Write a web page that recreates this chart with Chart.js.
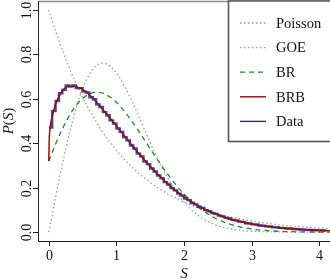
<!DOCTYPE html>
<html>
<head>
<meta charset="utf-8">
<script src="https://cdn.jsdelivr.net/npm/chart.js@4"></script>
<style>
  html, body { margin: 0; padding: 0; background: #fff; }
</style>
</head>
<body>
<canvas id="spacing_chart" width="330" height="280"></canvas>
<script>
// grid of S values for the reference curves
const sGrid = [0, 0.1, 0.2, 0.3, 0.4, 0.5, 0.6, 0.7, 0.8, 0.9, 1.0, 1.1, 1.2, 1.3, 1.4, 1.5, 1.6, 1.7, 1.8, 1.9,
    2.0, 2.1, 2.2, 2.3, 2.4, 2.5, 2.6, 2.7, 2.8, 2.9, 3.0, 3.1, 3.2, 3.3, 3.4, 3.5, 3.6, 3.7, 3.8, 3.9, 4.0, 4.1, 4.2];

const poissonVals = [1.000, 0.905, 0.819, 0.741, 0.670, 0.607, 0.549, 0.497, 0.449, 0.407, 0.368, 0.333, 0.301, 0.273,
    0.247, 0.223, 0.202, 0.183, 0.165, 0.150, 0.135, 0.122, 0.111, 0.100, 0.091, 0.082, 0.074, 0.067, 0.061, 0.055,
    0.050, 0.045, 0.041, 0.037, 0.033, 0.030, 0.027, 0.025, 0.022, 0.020, 0.018, 0.017, 0.015];

const goeVals = [0, 0.156, 0.304, 0.439, 0.554, 0.645, 0.710, 0.748, 0.760, 0.748, 0.716, 0.668, 0.608, 0.542, 0.472,
    0.403, 0.337, 0.276, 0.222, 0.175, 0.136, 0.103, 0.077, 0.057, 0.041, 0.029, 0.020, 0.014, 0.009, 0.006, 0.004,
    0.003, 0.002, 0.001, 0.001, 0, 0, 0, 0, 0, 0, 0, 0];

const brVals = [0.319, 0.396, 0.464, 0.522, 0.569, 0.602, 0.622, 0.630, 0.625, 0.609, 0.584, 0.550, 0.511, 0.468, 0.422,
    0.375, 0.329, 0.285, 0.244, 0.206, 0.171, 0.141, 0.115, 0.092, 0.073, 0.057, 0.044, 0.034, 0.026, 0.019, 0.014,
    0.010, 0.0075, 0.0055, 0.0038, 0.0026, 0.0018, 0.0012, 0.0008, 0.0005, 0.0003, 0.0002, 0.0001];

// BRB fit is steep near zero, so it gets its own S values
const sBrb = [0, 0.005, 0.01, 0.02, 0.035, 0.05, 0.075, 0.1, 0.15, 0.2, 0.25, 0.3, 0.35, 0.4, 0.5, 0.6, 0.7, 0.8, 0.9,
    1.0, 1.1, 1.2, 1.3, 1.4, 1.5, 1.6, 1.7, 1.8, 1.9, 2.0, 2.1, 2.2, 2.3, 2.4, 2.5, 2.6, 2.7, 2.8, 2.9, 3.0, 3.2, 3.4,
    3.6, 3.8, 4.0, 4.2];
const brbVals = [0.32, 0.40, 0.44, 0.47, 0.50, 0.52, 0.55, 0.575, 0.61, 0.635, 0.65, 0.657, 0.658, 0.655, 0.642, 0.618,
    0.587, 0.552, 0.515, 0.478, 0.440, 0.402, 0.365, 0.330, 0.296, 0.264, 0.234, 0.206, 0.181, 0.158, 0.138, 0.120,
    0.104, 0.090, 0.078, 0.067, 0.058, 0.050, 0.043, 0.037, 0.027, 0.020, 0.015, 0.011, 0.008, 0.006];

// histogram of the data, bins of width 0.05 starting at 0
const binWidth = 0.05;
const dataVals = [0.47, 0.545, 0.59, 0.625, 0.64, 0.66, 0.655, 0.66, 0.648, 0.648,
    0.632, 0.628, 0.607, 0.598, 0.575, 0.563, 0.540, 0.526, 0.503, 0.489,
    0.466, 0.451, 0.427, 0.413, 0.390, 0.376, 0.353, 0.341, 0.318, 0.306,
    0.286, 0.273, 0.255, 0.243, 0.225, 0.214, 0.198, 0.188, 0.173, 0.165,
    0.151, 0.144, 0.131, 0.125, 0.114, 0.109, 0.099, 0.094, 0.086, 0.082,
    0.074, 0.071, 0.064, 0.061, 0.055, 0.053, 0.047, 0.046, 0.040, 0.039,
    0.035, 0.034, 0.030, 0.029, 0.026, 0.025, 0.022, 0.022, 0.019, 0.018,
    0.016, 0.016, 0.014, 0.013, 0.012, 0.011, 0.010, 0.010, 0.009, 0.008,
    0.008, 0.007];

const xTicks = [0, 1, 2, 3, 4];
const yTicks = [0, 0.2, 0.4, 0.6, 0.8, 1.0];
const yTickLabels = ["0.0", "0.2", "0.4", "0.6", "0.8", "1.0"];

const legendNames = ["Poisson", "GOE", "BR", "BRB", "Data"];

const serif = "'Liberation Serif', 'DejaVu Serif', serif";
const grayDot = "#9a9a9a";
const green = "#1f8a1f";
const red = "#8e0c0c";
const navy = "#28288e";

toPoints = (xs, ys) => xs.map((x, i) => ({ x: x, y: ys[i] }));

// step points: left edge of each bin, plus the right edge of the last one
let dataPoints = dataVals.map((v, i) => ({ x: i * binWidth, y: v }));
dataPoints.push({ x: dataVals.length * binWidth, y: dataVals[dataVals.length - 1] });

// legend entries with their line styles
const legendStyles = [
    { color: grayDot, dash: [1.5, 2.5], width: 1.3 },
    { color: grayDot, dash: [1.5, 2.5], width: 1.3 },
    { color: green, dash: [5, 4], width: 1.3 },
    { color: red, dash: [], width: 1.4 },
    { color: navy, dash: [], width: 1.4 }
];

// axes, labels and legend drawn by hand (R style, rotated y labels)
const axesPlugin = {
    id: "axesPlugin",
    afterDatasetsDraw(chart) {
        const ctx = chart.ctx;
        const area = chart.chartArea;
        const xs = chart.scales.x;
        const ys = chart.scales.y;
        ctx.save();

        // top frame line
        ctx.strokeStyle = "#8c8c8c";
        ctx.lineWidth = 1.5;
        ctx.beginPath();
        ctx.moveTo(area.left, area.top + 0.5);
        ctx.lineTo(area.right, area.top + 0.5);
        ctx.stroke();

        // left and bottom spines
        ctx.strokeStyle = "#222";
        ctx.lineWidth = 1;
        ctx.beginPath();
        ctx.moveTo(area.left + 0.5, area.top);
        ctx.lineTo(area.left + 0.5, area.bottom + 0.5);
        ctx.lineTo(area.right, area.bottom + 0.5);
        ctx.stroke();

        // x ticks and labels
        ctx.fillStyle = "#111";
        ctx.font = "14px " + serif;
        ctx.textAlign = "center";
        ctx.textBaseline = "middle";
        xTicks.forEach(t => {
            const px = Math.round(xs.getPixelForValue(t)) + 0.5;
            ctx.beginPath();
            ctx.moveTo(px, area.bottom);
            ctx.lineTo(px, area.bottom + 5);
            ctx.stroke();
            ctx.fillText(String(t), px, area.bottom + 15);
        });

        // y ticks and rotated labels
        yTicks.forEach((t, i) => {
            const py = Math.round(ys.getPixelForValue(t)) + 0.5;
            ctx.beginPath();
            ctx.moveTo(area.left - 5, py);
            ctx.lineTo(area.left, py);
            ctx.stroke();
            ctx.save();
            ctx.translate(area.left - 11, py);
            ctx.rotate(-Math.PI / 2);
            ctx.fillText(yTickLabels[i], 0, 0);
            ctx.restore();
        });

        // x title
        ctx.font = "italic 15px " + serif;
        ctx.fillText("S", (area.left + area.right) / 2, 274);

        // y title P(S), mixed italic and upright
        const parts = [["P", "italic 15px "], ["(", "15px "], ["S", "italic 15px "], [")", "15px "]];
        let total = 0;
        parts.forEach(p => { ctx.font = p[1] + serif; total += ctx.measureText(p[0]).width; });
        ctx.save();
        ctx.translate(9, (area.top + area.bottom) / 2);
        ctx.rotate(-Math.PI / 2);
        ctx.textAlign = "left";
        let cx = -total / 2;
        parts.forEach(p => {
            ctx.font = p[1] + serif;
            ctx.fillText(p[0], cx, 0);
            cx += ctx.measureText(p[0]).width;
        });
        ctx.restore();

        // legend box
        const lx = 228.5, ly = 1, lw = 110, lh = 140.5;
        ctx.fillStyle = "#fff";
        ctx.fillRect(lx, ly, lw, lh);
        ctx.strokeStyle = "#555";
        ctx.lineWidth = 1.6;
        ctx.strokeRect(lx, ly, lw, lh);

        ctx.font = "14.5px " + serif;
        ctx.textAlign = "left";
        ctx.fillStyle = "#111";
        legendNames.forEach((name, i) => {
            const y = 23 + i * 24.6;
            const st = legendStyles[i];
            ctx.strokeStyle = st.color;
            ctx.lineWidth = st.width;
            ctx.setLineDash(st.dash);
            ctx.beginPath();
            ctx.moveTo(240, y);
            ctx.lineTo(266, y);
            ctx.stroke();
            ctx.setLineDash([]);
            ctx.fillText(name, 276, y + 1);
        });

        ctx.restore();
    }
};

new Chart("spacing_chart", {
    type: "line",
    data: {
        datasets: [
            { label: "BRB", data: toPoints(sBrb, brbVals), borderColor: red, borderWidth: 1.5, order: 0 },
            { label: "Data", data: dataPoints, borderColor: "rgba(40,40,150,0.85)", borderWidth: 2.4, stepped: true, order: 1 },
            { label: "BR", data: toPoints(sGrid, brVals), borderColor: green, borderWidth: 1.3, borderDash: [5, 4], order: 2 },
            { label: "GOE", data: toPoints(sGrid, goeVals), borderColor: grayDot, borderWidth: 1.3, borderDash: [1.5, 2.5], order: 3 },
            { label: "Poisson", data: toPoints(sGrid, poissonVals), borderColor: grayDot, borderWidth: 1.3, borderDash: [1.5, 2.5], order: 4 }
        ]
    },
    options: {
        responsive: false,
        animation: false,
        layout: { padding: { left: 38, right: 0, top: 1, bottom: 39 } },
        elements: {
            point: { radius: 0 },
            line: { cubicInterpolationMode: "monotone", fill: false }
        },
        scales: {
            x: { type: "linear", min: -0.16, max: 4.16, display: false },
            y: { type: "linear", min: -0.04, max: 1.04, display: false }
        },
        plugins: {
            legend: { display: false },
            tooltip: { enabled: false }
        }
    },
    plugins: [axesPlugin]
});
</script>
</body>
</html>
